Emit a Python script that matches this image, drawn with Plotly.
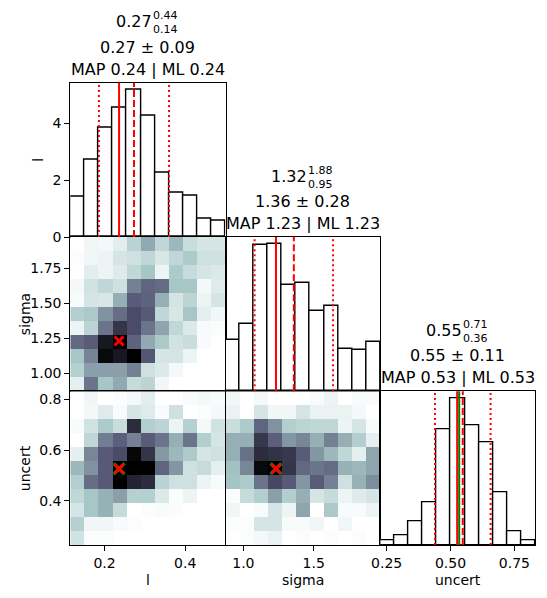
import numpy as np
import plotly.graph_objects as go

# ---------------- data ----------------
PARAM_NAMES = ["l", "sigma", "uncert"]
L_RANGE = [0.115, 0.5]
S_RANGE = [0.873, 1.974]
U_RANGE = [0.225, 0.832]

# 1D marginal densities (11 bins each)
L_HIST = [1.41, 2.73, 3.83, 4.56, 5.17, 4.28, 2.27, 1.57, 1.46, 0.65, 0.56]
S_HIST = [0.55, 0.73, 1.58, 1.59, 1.15, 1.17, 0.87, 0.92, 0.46, 0.45, 0.53]
U_HIST = [0.12, 0.27, 0.68, 1.21, 3.29, 4.16, 3.40, 2.92, 1.51, 0.40, 0.14]

# summary statistics
L_STATS = dict(median=0.27, hi=0.44, lo=0.14, mean=0.273, std=0.087, map=0.236, ml=0.236)
S_STATS = dict(median=1.32, hi=1.88, lo=0.95, mean=1.359, std=0.279, map=1.232, ml=1.232)
U_STATS = dict(median=0.55, hi=0.71, lo=0.36, mean=0.548, std=0.109, map=0.526, ml=0.526)
TRUTH_UNCERT = 0.534

# 2D normalised densities (rows listed top -> bottom, columns left -> right)
L_SIGMA = [
    [0.00, 0.04, 0.03, 0.08, 0.20, 0.35, 0.18, 0.30, 0.15, 0.12, 0.12],
    [0.01, 0.04, 0.05, 0.12, 0.14, 0.18, 0.11, 0.18, 0.23, 0.14, 0.14],
    [0.00, 0.08, 0.05, 0.09, 0.18, 0.25, 0.05, 0.23, 0.16, 0.12, 0.10],
    [0.03, 0.13, 0.18, 0.14, 0.48, 0.57, 0.55, 0.25, 0.25, 0.03, 0.09],
    [0.02, 0.12, 0.11, 0.33, 0.60, 0.58, 0.33, 0.12, 0.19, 0.05, 0.12],
    [0.22, 0.24, 0.42, 0.54, 0.66, 0.61, 0.18, 0.11, 0.25, 0.07, 0.04],
    [0.05, 0.19, 0.52, 0.76, 0.66, 0.52, 0.36, 0.18, 0.10, 0.02, 0.01],
    [0.56, 0.60, 0.89, 1.00, 0.58, 0.35, 0.24, 0.13, 0.15, 0.02, 0.00],
    [0.25, 0.47, 0.96, 0.89, 1.00, 0.62, 0.12, 0.12, 0.05, 0.00, 0.00],
    [0.21, 0.38, 0.38, 0.38, 0.48, 0.14, 0.10, 0.03, 0.00, 0.00, 0.00],
    [0.07, 0.52, 0.25, 0.35, 0.16, 0.19, 0.04, 0.00, 0.00, 0.00, 0.00],
]
L_UNCERT = [
    [0.00, 0.04, 0.00, 0.01, 0.03, 0.08, 0.00, 0.00, 0.02, 0.03, 0.02],
    [0.00, 0.03, 0.09, 0.02, 0.12, 0.09, 0.02, 0.14, 0.00, 0.01, 0.03],
    [0.02, 0.13, 0.23, 0.15, 0.80, 0.22, 0.19, 0.05, 0.21, 0.03, 0.13],
    [0.00, 0.18, 0.49, 0.59, 0.48, 0.60, 0.52, 0.33, 0.52, 0.22, 0.12],
    [0.07, 0.46, 0.61, 0.66, 0.97, 0.76, 0.40, 0.30, 0.23, 0.12, 0.14],
    [0.30, 0.42, 0.61, 1.00, 1.00, 1.00, 0.57, 0.41, 0.14, 0.16, 0.07],
    [0.22, 0.54, 0.61, 1.00, 0.84, 0.80, 0.20, 0.14, 0.14, 0.05, 0.02],
    [0.18, 0.25, 0.32, 0.38, 0.21, 0.21, 0.10, 0.01, 0.05, 0.00, 0.00],
    [0.12, 0.25, 0.32, 0.16, 0.00, 0.01, 0.02, 0.01, 0.00, 0.00, 0.00],
    [0.21, 0.04, 0.04, 0.02, 0.01, 0.00, 0.00, 0.00, 0.00, 0.00, 0.00],
    [0.13, 0.01, 0.01, 0.00, 0.00, 0.00, 0.00, 0.00, 0.00, 0.00, 0.00],
]
SIGMA_UNCERT = [
    [0.04, 0.00, 0.03, 0.00, 0.00, 0.00, 0.02, 0.05, 0.00, 0.02, 0.02],
    [0.06, 0.00, 0.12, 0.04, 0.04, 0.12, 0.06, 0.06, 0.06, 0.03, 0.00],
    [0.15, 0.23, 0.57, 0.42, 0.22, 0.19, 0.18, 0.18, 0.05, 0.12, 0.02],
    [0.33, 0.33, 0.75, 0.59, 0.41, 0.46, 0.33, 0.48, 0.33, 0.22, 0.07],
    [0.33, 0.53, 0.80, 0.77, 0.75, 0.60, 0.41, 0.30, 0.18, 0.07, 0.36],
    [0.27, 0.46, 0.96, 1.00, 0.76, 0.56, 0.52, 0.55, 0.32, 0.30, 0.36],
    [0.26, 0.23, 0.52, 0.68, 0.61, 0.41, 0.60, 0.48, 0.14, 0.32, 0.44],
    [0.01, 0.16, 0.22, 0.38, 0.22, 0.33, 0.12, 0.16, 0.05, 0.09, 0.12],
    [0.04, 0.00, 0.02, 0.12, 0.05, 0.36, 0.00, 0.24, 0.02, 0.02, 0.05],
    [0.01, 0.01, 0.12, 0.12, 0.02, 0.02, 0.04, 0.00, 0.04, 0.00, 0.00],
    [0.00, 0.01, 0.03, 0.06, 0.00, 0.01, 0.00, 0.01, 0.00, 0.01, 0.00],
]

# tick labels
L_TICKS = [0.2, 0.4];            L_TICKTEXT = ["0.2", "0.4"]
S_XTICKS = [1.0, 1.5];           S_XTICKTEXT = ["1.0", "1.5"]
S_YTICKS = [1.0, 1.25, 1.5, 1.75]; S_YTICKTEXT = ["1.00", "1.25", "1.50", "1.75"]
U_XTICKS = [0.25, 0.5, 0.75];    U_XTICKTEXT = ["0.25", "0.50", "0.75"]
U_YTICKS = [0.4, 0.6, 0.8];      U_YTICKTEXT = ["0.4", "0.6", "0.8"]
H_YTICKS = [0, 2, 4];            H_YTICKTEXT = ["0", "2", "4"]

# ---------------- layout helpers ----------------
W, H = 547, 598
FONT = "DejaVu Sans"

def px_x(p):
    return p / W

def px_y(p):
    return 1 - p / H

COLS = [(70.3, 225.5), (225.5, 380.3), (380.3, 535.3)]
ROWS = [(82.7, 237.0), (237.0, 391.3), (391.3, 545.0)]

def xdom(c):
    return [px_x(COLS[c][0]), px_x(COLS[c][1])]

def ydom(r):
    return [px_y(ROWS[r][1]), px_y(ROWS[r][0])]

BONE_R = [[0.0, "rgb(255,255,255)"], [0.253968, "rgb(166,198,198)"],
          [0.634921, "rgb(81,81,113)"], [1.0, "rgb(0,0,0)"]]

NB = 11
def edges(rng):
    return np.linspace(rng[0], rng[1], NB + 1)

def centers(rng):
    e = edges(rng)
    return (e[:-1] + e[1:]) / 2

fig = go.Figure()

# panel numbering: 1 l-hist, 2 l-sigma, 3 sigma-hist, 4 l-uncert, 5 sigma-uncert, 6 uncert-hist
def add_hist(vals, rng, n):
    fig.add_trace(go.Bar(
        x=centers(rng), y=vals, width=(rng[1] - rng[0]) / NB,
        marker=dict(color="white", line=dict(color="black", width=1.4)),
        xaxis=f"x{n}", yaxis=f"y{n}", showlegend=False, hoverinfo="skip"))

def add_2d(z_top_down, xr, yr, n):
    fig.add_trace(go.Heatmap(
        z=z_top_down[::-1], x=edges(xr), y=edges(yr),
        colorscale=BONE_R, zmin=0, zmax=1, showscale=False,
        xaxis=f"x{n}", yaxis=f"y{n}", hoverinfo="skip"))

add_hist(L_HIST, L_RANGE, 1)
add_2d(L_SIGMA, L_RANGE, S_RANGE, 2)
add_hist(S_HIST, S_RANGE, 3)
add_2d(L_UNCERT, L_RANGE, U_RANGE, 4)
add_2d(SIGMA_UNCERT, S_RANGE, U_RANGE, 5)
add_hist(U_HIST, U_RANGE, 6)

# markers: green (behind) and red MAP on top
def add_marker(x, y, n, color, size, width):
    fig.add_trace(go.Scatter(
        x=[x], y=[y], mode="markers",
        marker=dict(symbol="x-thin", size=size, line=dict(color=color, width=width)),
        xaxis=f"x{n}", yaxis=f"y{n}", showlegend=False, hoverinfo="skip"))

add_marker(L_STATS["map"], S_STATS["map"], 2, "red", 9, 3)
add_marker(L_STATS["ml"], U_STATS["ml"], 4, "green", 11, 3.5)
add_marker(L_STATS["map"], U_STATS["map"], 4, "red", 9, 3)
add_marker(S_STATS["ml"], U_STATS["ml"], 5, "green", 11, 3.5)
add_marker(S_STATS["map"], U_STATS["map"], 5, "red", 9, 3)

def axis(dom, rng, tickvals=None, ticktext=None, show=False):
    d = dict(domain=dom, range=rng, showline=True, mirror=True, linecolor="black",
             linewidth=1, showgrid=False, zeroline=False, fixedrange=True,
             automargin=False)
    if show:
        d.update(ticks="outside", ticklen=5, tickwidth=1, tickcolor="black",
                 tickvals=tickvals, ticktext=ticktext, showticklabels=True,
                 tickfont=dict(family=FONT, size=14, color="black"))
    else:
        d.update(ticks="", showticklabels=False)
    return d

lay = {}
lay["xaxis"] = axis(xdom(0), L_RANGE)
lay["yaxis"] = axis(ydom(0), [0, max(L_HIST) * 1.05], H_YTICKS, H_YTICKTEXT, True)
lay["xaxis2"] = axis(xdom(0), L_RANGE)
lay["yaxis2"] = axis(ydom(1), S_RANGE, S_YTICKS, S_YTICKTEXT, True)
lay["xaxis3"] = axis(xdom(1), S_RANGE)
lay["yaxis3"] = axis(ydom(1), [0, max(S_HIST) * 1.05])
lay["xaxis4"] = axis(xdom(0), L_RANGE, L_TICKS, L_TICKTEXT, True)
lay["yaxis4"] = axis(ydom(2), U_RANGE, U_YTICKS, U_YTICKTEXT, True)
lay["xaxis5"] = axis(xdom(1), S_RANGE, S_XTICKS, S_XTICKTEXT, True)
lay["yaxis5"] = axis(ydom(2), U_RANGE)
lay["xaxis6"] = axis(xdom(2), U_RANGE, U_XTICKS, U_XTICKTEXT, True)
lay["yaxis6"] = axis(ydom(2), [0, max(U_HIST) * 1.05])
for i in range(1, 7):
    xa = "xaxis" if i == 1 else f"xaxis{i}"
    ya = "yaxis" if i == 1 else f"yaxis{i}"
    lay[xa]["anchor"] = "y" if i == 1 else f"y{i}"
    lay[ya]["anchor"] = "x" if i == 1 else f"x{i}"

shapes = []
annotations = []

def vlines(st, n, truth=None):
    xr = "x" if n == 1 else f"x{n}"
    yr = ("y" if n == 1 else f"y{n}") + " domain"
    def ln(v, color, dash):
        shapes.append(dict(type="line", xref=xr, yref=yr, x0=v, x1=v, y0=0, y1=1,
                           line=dict(color=color, width=2, dash=dash), layer="above"))
    ln(st["mean"] - st["std"], "red", "2px,3px")
    ln(st["mean"] + st["std"], "red", "2px,3px")
    ln(st["mean"], "red", "7px,3px")
    ln(st["map"], "red", "solid")
    if truth is not None:
        ln(truth, "green", "solid")

def titles(st, n):
    xr = ("x" if n == 1 else f"x{n}") + " domain"
    yr = ("y" if n == 1 else f"y{n}") + " domain"
    base = dict(xref=xr, yref=yr, x=0.5, y=1, showarrow=False, yanchor="middle")
    f16 = dict(family=FONT, size=16, color="black")
    f11 = dict(family=FONT, size=11, color="black")
    annotations.append(dict(base, text=f"MAP {st['map']:.2f} | ML {st['ml']:.2f}",
                            yshift=13.5, font=f16, xanchor="center"))
    annotations.append(dict(base, text=f"{st['mean']:.2f} ± {st['std']:.2f}",
                            yshift=35.5, font=f16, xanchor="center"))
    annotations.append(dict(base, text=f"{st['median']:.2f}", yshift=61, font=f16,
                            xanchor="right", xshift=5, borderpad=0))
    annotations.append(dict(base, text=f"{st['hi']:.2f}<br>{st['lo']:.2f}", yshift=60,
                            font=f11, xanchor="left", xshift=4, borderpad=0))

vlines(L_STATS, 1)
vlines(S_STATS, 3)
vlines(U_STATS, 6, TRUTH_UNCERT)
titles(L_STATS, 1)
titles(S_STATS, 3)
titles(U_STATS, 6)

lab = dict(family=FONT, size=14, color="black")
for name, cx in zip(PARAM_NAMES, [(c[0] + c[1]) / 2 for c in COLS]):
    annotations.append(dict(xref="paper", yref="paper", x=px_x(cx), y=px_y(580),
                            text=name, showarrow=False, font=lab,
                            xanchor="center", yanchor="middle"))
for name, cy, lx in zip(PARAM_NAMES, [(r[0] + r[1]) / 2 for r in ROWS], [38, 25, 25]):
    annotations.append(dict(xref="paper", yref="paper", x=px_x(lx), y=px_y(cy),
                            text=name, showarrow=False, font=lab, textangle=-90,
                            xanchor="center", yanchor="middle"))

fig.update_layout(
    template="none",
    width=W, height=H, margin=dict(l=0, r=0, t=0, b=0, pad=0), autosize=False,
    paper_bgcolor="white", plot_bgcolor="white",
    bargap=0, shapes=shapes, annotations=annotations, showlegend=False,
    font=dict(family=FONT, color="black"),
    **lay)

fig.write_html("out.html", config={"displayModeBar": False})
